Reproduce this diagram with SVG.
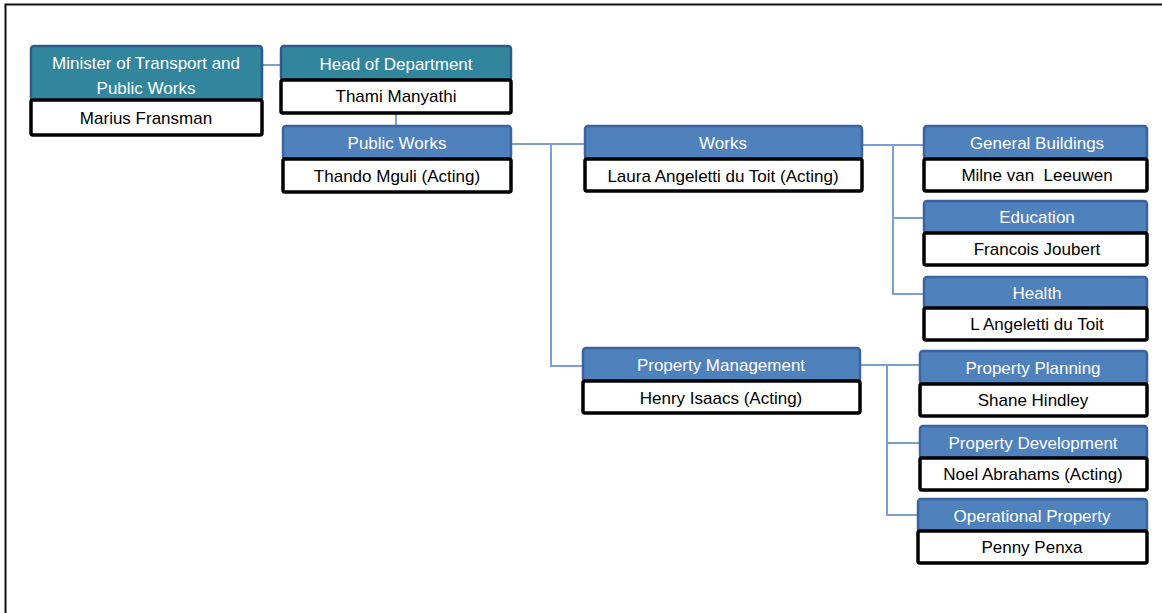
<svg xmlns="http://www.w3.org/2000/svg" width="1162" height="613" viewBox="0 0 1162 613">
<style>
.hd{fill:#4F81BD;stroke:#3B63A0;stroke-width:2.5}
.tl{fill:#31859C;stroke:#2E5C8A;stroke-width:2.5}
.nm{fill:#FFFFFF;stroke:#000000;stroke-width:3.5}
.ht{font-family:"Liberation Sans",Arial,sans-serif;font-size:17px;fill:#FFFFFF;text-anchor:middle}
.nt{font-family:"Liberation Sans",Arial,sans-serif;font-size:17px;fill:#000000;text-anchor:middle}
.cn{fill:none;stroke:#7A9FD0;stroke-width:2}
</style>
<rect x="0" y="0" width="1162" height="613" fill="#FFFFFF"/>
<path d="M5.5 613 V4.5 H1162" fill="none" stroke="#111" stroke-width="2"/>
<g id="connectors">
<path class="cn" d="M263 65 H280"/>
<path class="cn" d="M396 113 V125"/>
<path class="cn" d="M512 144 H584"/>
<path class="cn" d="M551 144 V366 H582"/>
<path class="cn" d="M863 145 H923"/>
<path class="cn" d="M893 145 V294 H923"/>
<path class="cn" d="M893 218 H923"/>
<path class="cn" d="M861 365 H919"/>
<path class="cn" d="M887 365 V515 H917"/>
<path class="cn" d="M887 443 H919"/>
</g>
<g id="minister">
<rect class="tl" x="31" y="46" width="231" height="55" rx="3"/>
<rect class="nm" x="31" y="100" width="231" height="35" rx="2"/>
<text class="ht" x="146" y="69">Minister of Transport and</text>
<text class="ht" x="146" y="94">Public Works</text>
<text class="nt" x="146" y="124">Marius Fransman</text>
</g>
<g id="hod">
<rect class="tl" x="281" y="46" width="230" height="34" rx="3"/>
<rect class="nm" x="281" y="80" width="230" height="33" rx="2"/>
<text class="ht" x="396" y="70">Head of Department</text>
<text class="nt" x="396" y="102">Thami Manyathi</text>
</g>
<g id="publicworks">
<rect class="hd" x="283" y="126" width="228" height="33" rx="3"/>
<rect class="nm" x="283" y="159" width="228" height="33" rx="2"/>
<text class="ht" x="397" y="149">Public Works</text>
<text class="nt" x="397" y="182">Thando Mguli (Acting)</text>
</g>
<g id="works">
<rect class="hd" x="585" y="126" width="277" height="33" rx="3"/>
<rect class="nm" x="585" y="159" width="277" height="32" rx="2"/>
<text class="ht" x="723" y="149">Works</text>
<text class="nt" x="723" y="182">Laura Angeletti du Toit (Acting)</text>
</g>
<g id="generalbuildings">
<rect class="hd" x="924" y="126" width="223" height="33" rx="3"/>
<rect class="nm" x="924" y="159" width="223" height="32" rx="2"/>
<text class="ht" x="1037" y="149">General Buildings</text>
<text class="nt" x="1037" y="181" xml:space="preserve">Milne van  Leeuwen</text>
</g>
<g id="education">
<rect class="hd" x="924" y="201" width="223" height="32" rx="3"/>
<rect class="nm" x="924" y="233" width="223" height="32" rx="2"/>
<text class="ht" x="1037" y="223">Education</text>
<text class="nt" x="1037" y="255">Francois Joubert</text>
</g>
<g id="health">
<rect class="hd" x="924" y="277" width="223" height="31" rx="3"/>
<rect class="nm" x="924" y="308" width="223" height="32" rx="2"/>
<text class="ht" x="1037" y="299">Health</text>
<text class="nt" x="1037" y="330">L Angeletti du Toit</text>
</g>
<g id="propertymanagement">
<rect class="hd" x="583" y="348" width="277" height="33" rx="3"/>
<rect class="nm" x="583" y="381" width="277" height="32" rx="2"/>
<text class="ht" x="721" y="371">Property Management</text>
<text class="nt" x="721" y="404">Henry Isaacs (Acting)</text>
</g>
<g id="propertyplanning">
<rect class="hd" x="920" y="351" width="227" height="33" rx="3"/>
<rect class="nm" x="920" y="384" width="227" height="32" rx="2"/>
<text class="ht" x="1033" y="374">Property Planning</text>
<text class="nt" x="1033" y="406">Shane Hindley</text>
</g>
<g id="propertydevelopment">
<rect class="hd" x="920" y="426" width="227" height="32" rx="3"/>
<rect class="nm" x="920" y="458" width="227" height="32" rx="2"/>
<text class="ht" x="1033" y="449">Property Development</text>
<text class="nt" x="1033" y="480">Noel Abrahams (Acting)</text>
</g>
<g id="operationalproperty">
<rect class="hd" x="918" y="499" width="229" height="32" rx="3"/>
<rect class="nm" x="918" y="531" width="229" height="32" rx="2"/>
<text class="ht" x="1032" y="522">Operational Property</text>
<text class="nt" x="1032" y="553">Penny Penxa</text>
</g>
</svg>
